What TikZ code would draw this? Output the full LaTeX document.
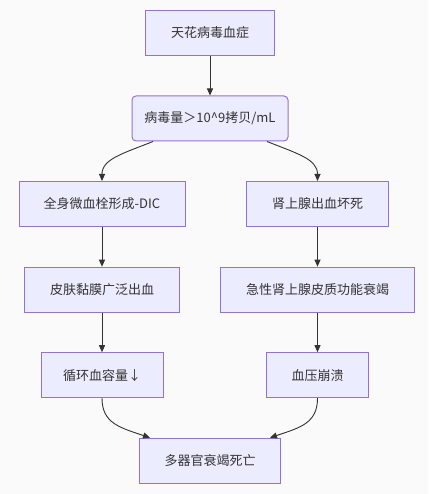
\documentclass[tikz,border=0pt]{standalone}
\usepackage{fontspec}
\setmainfont{Noto Sans CJK SC}
\usetikzlibrary{arrows.meta}
\definecolor{relleno}{HTML}{ECECFF}
\definecolor{borde}{HTML}{9370DB}
\definecolor{trazo}{HTML}{333333}
\definecolor{fondo}{HTML}{FAFAFA}

\begin{document}
\begin{tikzpicture}[
    x=1pt, y=1pt,
    caja/.style={draw=borde, fill=relleno, line width=1pt, minimum height=45pt, inner sep=0pt, text=trazo, font=\fontsize{13pt}{15pt}\selectfont},
    flecha/.style={draw=trazo, line width=0.9pt, -{Triangle[length=7pt, width=6pt]}}
]
    % --- FONDO ---
    \fill[fondo] (0, 0) rectangle (428, 494);

    % --- ORIGEN: VIREMIA ---
    \node[caja, minimum width=129pt] (N1) at (210, 461) {天花病毒血症};
    \node[caja, minimum width=156pt, rounded corners=4pt] (N2) at (210, 375.5) {病毒量＞10\^{}9拷贝/mL};
    \draw[flecha] (N1) -- (N2);

    % --- RAMA IZQUIERDA: DIC ---
    \node[caja, minimum width=166pt] (N3) at (102, 290) {全身微血栓形成-DIC};
    \node[caja, minimum width=155pt] (N5) at (102, 204.3) {皮肤黏膜广泛出血};
    \node[caja, minimum width=122pt] (N7) at (102, 118.8) {循环血容量↓};
    \draw[flecha] ([xshift=-57pt]N2.south) .. controls +(-30pt,-12pt) and +(0pt,22pt) .. (N3.north);
    \draw[flecha] (N3) -- (N5);
    \draw[flecha] (N5) -- (N7);

    % --- RAMA DERECHA: SUPRARRENAL ---
    \node[caja, minimum width=142pt] (N4) at (317.5, 290) {肾上腺出血坏死};
    \node[caja, minimum width=194pt] (N6) at (317.5, 204.3) {急性肾上腺皮质功能衰竭};
    \node[caja, minimum width=102pt] (N8) at (317.5, 118.8) {血压崩溃};
    \draw[flecha] ([xshift=57pt]N2.south) .. controls +(30pt,-12pt) and +(0pt,22pt) .. (N4.north);
    \draw[flecha] (N4) -- (N6);
    \draw[flecha] (N6) -- (N8);

    % --- CONVERGENCIA FINAL ---
    \node[caja, minimum width=141pt] (N9) at (210, 33.3) {多器官衰竭死亡};
    \draw[flecha] (N7.south) .. controls +(0pt,-25pt) and +(-30pt,10pt) .. ([xshift=-60pt]N9.north);
    \draw[flecha] (N8.south) .. controls +(0pt,-25pt) and +(30pt,10pt) .. ([xshift=60pt]N9.north);
\end{tikzpicture}
\end{document}
